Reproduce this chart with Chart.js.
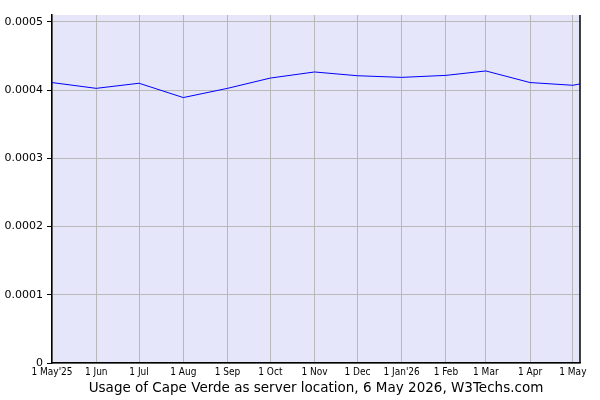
<!DOCTYPE html>
<html>
<head>
<meta charset="utf-8">
<script src="https://cdn.jsdelivr.net/npm/chart.js@4.4.1/dist/chart.umd.min.js"></script>
<style>
  html, body { margin: 0; padding: 0; background: #fff; }
  #wrap { width: 600px; height: 400px; }
</style>
</head>
<body>
<div id="wrap"><canvas id="chart"></canvas></div>
<script>
// Sample dates and usage share (fraction)
const dates = ['2025-05-01', '2025-06-01', '2025-07-01', '2025-08-01', '2025-09-01', '2025-10-01',
  '2025-11-01', '2025-12-01', '2026-01-01', '2026-02-01', '2026-03-01', '2026-04-01',
  '2026-05-01', '2026-05-06'];
const usage = [0.000411, 0.0004025, 0.000410, 0.000389, 0.0004025, 0.0004176,
  0.0004265, 0.000421, 0.0004186, 0.0004215, 0.000428, 0.000411,
  0.000407, 0.000409];

// Month tick dates and their labels
const tickDates = ['2025-05-01', '2025-06-01', '2025-07-01', '2025-08-01', '2025-09-01', '2025-10-01',
  '2025-11-01', '2025-12-01', '2026-01-01', '2026-02-01', '2026-03-01', '2026-04-01', '2026-05-01'];
const tickLabels = ["1 May'25", '1 Jun', '1 Jul', '1 Aug', '1 Sep', '1 Oct',
  '1 Nov', '1 Dec', "1 Jan'26", '1 Feb', '1 Mar', '1 Apr', '1 May'];
const yTicks = [0, 0.0001, 0.0002, 0.0003, 0.0004, 0.0005];

const titleText = 'Usage of Cape Verde as server location, 6 May 2026, W3Techs.com';

// days since the first date, so a plain linear scale can act as a time axis
const start = Date.parse(dates[0]);
const dayOf = d => Math.round((Date.parse(d) - start) / 86400000);
const tickDays = tickDates.map(dayOf);

const plotFrame = {
  id: 'plotFrame',
  beforeDraw(chart) {
    const { ctx, chartArea: a } = chart;
    ctx.save();
    ctx.fillStyle = '#e6e6fa';
    ctx.fillRect(a.left, a.top, a.right - a.left, a.bottom - a.top);
    ctx.restore();
  },
  afterDraw(chart) {
    const { ctx, chartArea: a } = chart;
    ctx.save();
    ctx.strokeStyle = '#000';
    ctx.lineWidth = 1.5;
    ctx.beginPath();
    ctx.moveTo(a.right, a.top);
    ctx.lineTo(a.right, a.bottom);
    ctx.stroke();
    ctx.restore();
  }
};

new Chart(document.getElementById('chart'), {
  type: 'line',
  data: {
    datasets: [{
      data: dates.map((d, i) => ({ x: dayOf(d), y: usage[i] })),
      borderColor: '#0000ff',
      borderWidth: 1,
      pointRadius: 0,
      tension: 0,
      fill: false
    }]
  },
  options: {
    responsive: true,
    maintainAspectRatio: false,
    animation: false,
    layout: { padding: { top: 15, right: 20, left: 0, bottom: 0 } },
    plugins: {
      legend: { display: false },
      tooltip: { enabled: false }
    },
    scales: {
      x: {
        type: 'linear',
        min: 0,
        max: dayOf(dates[dates.length - 1]),
        afterBuildTicks: axis => { axis.ticks = tickDays.map(v => ({ value: v })); },
        afterFit: axis => { axis.height = 37; },
        ticks: {
          autoSkip: false,
          maxRotation: 0,
          padding: 3,
          color: '#000',
          font: { family: 'DejaVu Sans Condensed', size: 10 },
          callback: v => tickLabels[tickDays.indexOf(v)]
        },
        grid: { color: '#b8b8b8', drawTicks: false },
        border: { color: '#000', width: 1.5 },
        title: {
          display: true,
          text: titleText,
          color: '#000',
          font: { family: 'DejaVu Sans', size: 13.5 },
          padding: { top: 0, bottom: 3 }
        }
      },
      y: {
        min: 0,
        max: 0.00051,
        afterBuildTicks: axis => { axis.ticks = yTicks.map(v => ({ value: v })); },
        afterFit: axis => { axis.width = 52; },
        ticks: {
          padding: 4,
          color: '#000',
          font: { family: 'DejaVu Sans', size: 11 },
          callback: v => v === 0 ? '0' : v.toFixed(4)
        },
        grid: { color: '#b8b8b8', tickColor: '#000', tickLength: 5 },
        border: { color: '#000', width: 1.5 }
      }
    }
  },
  plugins: [plotFrame]
});
</script>
</body>
</html>
